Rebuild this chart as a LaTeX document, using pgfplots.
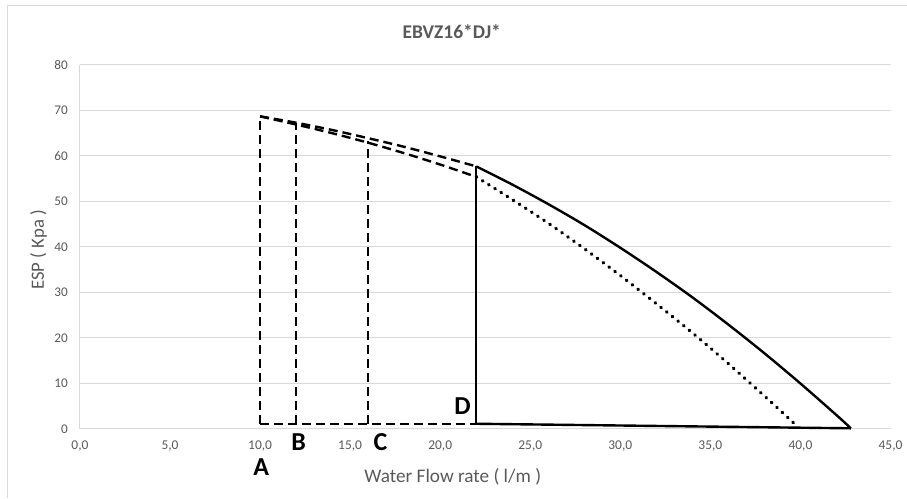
\documentclass[border=0pt]{standalone}
\usepackage{fontspec}
\setmainfont{Carlito}
\usepackage{pgfplots}
\pgfplotsset{compat=1.18}
\definecolor{txtgray}{HTML}{595959}
\definecolor{gridgray}{HTML}{D9D9D9}
\tikzset{
  ln/.style={black, line width=2.4bp, mark=none},
  dsh/.style={ln, dash pattern=on 9bp off 5bp},
  lbl/.style={font=\fontsize{26}{30}\selectfont\bfseries, black},
}
\begin{document}
\begin{tikzpicture}
% page frame (image is 907 x 498)
\path (0bp,0bp) rectangle (907bp,498bp);
\draw[gridgray, line width=1bp] (8bp,0bp) -- (8bp,492bp) -- (907bp,492bp);
\node[txtgray, font=\fontsize{19.5}{23}\selectfont\bfseries] at (452bp,466bp) {EBVZ16*DJ*};
\node[txtgray, font=\fontsize{19.3}{23}\selectfont, anchor=base] at (453bp,15bp) {Water Flow rate ( l/m )};
\node[txtgray, font=\fontsize{18.8}{22}\selectfont, anchor=base, rotate=90] at (44bp,248bp) {ESP ( Kpa )};
\begin{axis}[
  at={(80bp,69bp)}, anchor=south west,
  scale only axis, width=811bp, height=364bp,
  xmin=0, xmax=45, ymin=0, ymax=80,
  xtick={0,5,...,45}, ytick={0,10,...,80},
  axis x line*=bottom, axis y line*=left,
  axis line style={gridgray, line width=1bp},
  ymajorgrids, grid style={gridgray, line width=1bp},
  major tick length=0pt,
  /pgf/number format/assume math mode=true,
  xticklabel={\pgfmathprintnumber[fixed,fixed zerofill,precision=1,use comma]{\tick}},
  xticklabel style={txtgray, font=\fontsize{13.5}{16}\selectfont, anchor=base, inner sep=0pt, yshift=-21bp},
  yticklabel style={txtgray, font=\fontsize{13.3}{16}\selectfont, anchor=east, inner sep=0pt, xshift=-12bp},
  clip=false,
]
% upper dashed curve
\addplot[dsh, smooth] coordinates {
  (10,68.7) (12,67.3) (14,65.7) (16,63.9) (18,62.0) (20,59.9) (22,57.7)
};
% lower dashed curve
\addplot[dsh, smooth] coordinates {
  (10,68.7) (12,66.9) (14,65.0) (16,62.9) (18,60.6) (20,58.1) (22,55.4)
};
% vertical lines A, B, C (dashed)
\addplot[dsh] coordinates {(10,1.1) (10,68.7)};
\addplot[dsh] coordinates {(12,1.1) (12,67.2)};
\addplot[dsh] coordinates {(16,1.1) (16,63.3)};
% bottom dashed line
\addplot[dsh] coordinates {(10,1.1) (22,1.1)};
% D vertical and bottom solid
\addplot[ln] coordinates {(22,1.1) (22,57.7)};
\addplot[ln] coordinates {(22,1.1) (42.8,0.1)};
% solid upper curve
\addplot[ln, smooth] coordinates {
  (22,57.7) (24,53.7) (26,49.4) (28,44.8) (30,39.8) (32,34.5) (34,28.9)
  (36,22.9) (38,16.6) (40,9.95) (42,3.0) (42.8,0.1)
};
% dotted curve
\addplot[black, mark=none, smooth, line width=3.4bp, line cap=round, dash pattern=on 0.6bp off 6.7bp] coordinates {
  (22,55.4) (24,50.4) (26,45.2) (28,39.6) (30,33.7) (32,27.5) (34,21.1)
  (36,14.3) (38,7.2) (39.7,1.0)
};
% point labels
\node[lbl] at (axis cs:10.06,-8.5) {A};
\node[lbl] at (axis cs:12.14,-3.0) {B};
\node[lbl] at (axis cs:16.68,-3.0) {C};
\node[lbl] at (axis cs:21.24,5.0) {D};
\end{axis}
\end{tikzpicture}
\end{document}
